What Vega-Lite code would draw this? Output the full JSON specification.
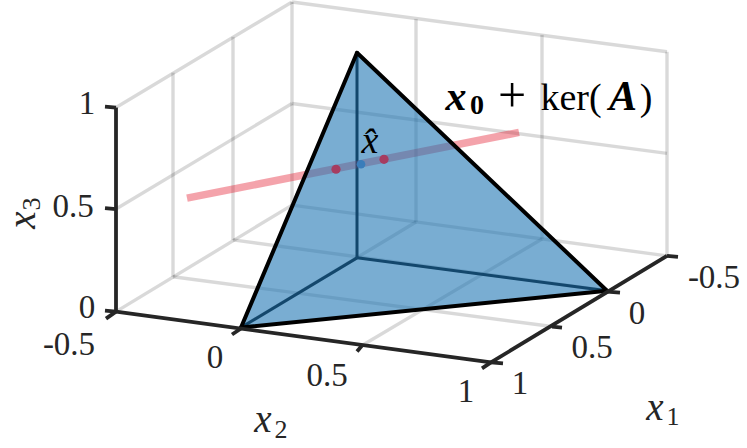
{
"$schema":"https://vega.github.io/schema/vega-lite/v6.json",
"width":747,"height":448,"padding":0,
"autosize":{"type":"fit","contains":"padding"},
"background":"white",
"config":{"view":{"stroke":null}},
"datasets":{
"grid":[
{"a":116,"b":106,"c":292,"d":0},{"a":116,"b":208,"c":292,"d":102},{"a":116,"b":311,"c":292,"d":204},
{"a":292,"b":0,"c":667,"d":50},{"a":292,"b":102,"c":667,"d":152},{"a":292,"b":204,"c":667,"d":255},
{"a":173,"b":71,"c":173,"d":276},{"a":233,"b":35,"c":233,"d":239},{"a":292,"b":0,"c":292,"d":204},
{"a":416,"b":17,"c":416,"d":221},{"a":542,"b":33,"c":542,"d":238},{"a":667,"b":50,"c":667,"d":255},
{"a":241,"b":327,"c":416,"d":221},{"a":362,"b":345,"c":542,"d":238},{"a":491,"b":362,"c":667,"d":255},
{"a":173,"b":276,"c":552,"d":326},{"a":233,"b":239,"c":607,"d":290}
],
"inner":[{"a":357,"b":51,"c":357,"d":257},{"a":357,"b":257,"c":241,"d":327},{"a":357,"b":257,"c":607,"d":290}],
"kernel":[{"a":187,"b":197,"c":519,"d":131}],
"face":[{"a":241,"b":327,"d":327},{"a":357,"b":51,"d":315.3},{"a":607,"b":290,"d":290}],
"outline":[{"a":241,"b":327,"c":357,"d":51},{"a":357,"b":51,"c":607,"d":290},{"a":241,"b":327,"c":607,"d":290}],
"axes":[
{"a":116,"b":106,"c":116,"d":311},{"a":116,"b":311,"c":491,"d":362},{"a":491,"b":362,"c":667,"d":255},
{"a":105,"b":105,"c":116,"d":106},{"a":105,"b":207,"c":116,"d":208},{"a":105,"b":310,"c":116,"d":311},
{"a":116,"b":311,"c":106,"d":318},{"a":241,"b":328,"c":232,"d":334},{"a":362,"b":345,"c":357,"d":351},{"a":491,"b":362,"c":482,"d":368},
{"a":667,"b":255,"c":678,"d":256},{"a":607,"b":291,"c":620,"d":292},{"a":552,"b":326,"c":562,"d":327},{"a":491,"b":362,"c":503,"d":363}
],
"ticks":[
{"a":87,"b":112,"t":"1"},{"a":73,"b":216,"t":"0.5"},{"a":87,"b":317,"t":"0"},
{"a":69,"b":355,"t":"-0.5"},{"a":215,"b":368,"t":"0"},{"a":327,"b":386,"t":"0.5"},{"a":466,"b":402,"t":"1"},
{"a":714,"b":287,"t":"-0.5"},{"a":637,"b":323,"t":"0"},{"a":592,"b":358,"t":"0.5"},{"a":520,"b":394,"t":"1"}
]
},
"encoding":{
"x":{"field":"a","type":"quantitative","scale":{"domain":[0,747]},"axis":null},
"y":{"field":"b","type":"quantitative","scale":{"domain":[448,0]},"axis":null}
},
"layer":[
{"data":{"name":"grid"},"mark":{"type":"rule","stroke":"#000","strokeOpacity":0.15,"strokeWidth":3.4},"encoding":{"x2":{"field":"c"},"y2":{"field":"d"}}},
{"data":{"name":"inner"},"mark":{"type":"rule","stroke":"#000","strokeWidth":3},"encoding":{"x2":{"field":"c"},"y2":{"field":"d"}}},
{"data":{"name":"kernel"},"mark":{"type":"rule","stroke":"#e41a2c","strokeOpacity":0.4,"strokeWidth":7.5},"encoding":{"x2":{"field":"c"},"y2":{"field":"d"}}},
{"data":{"name":"face"},"mark":{"type":"area","fill":"#1f77b4","fillOpacity":0.6,"stroke":null},"encoding":{"y2":{"field":"d"}}},
{"data":{"name":"outline"},"mark":{"type":"rule","stroke":"#000","strokeWidth":4,"strokeCap":"round"},"encoding":{"x2":{"field":"c"},"y2":{"field":"d"}}},
{"data":{"values":[{"a":336,"b":168},{"a":384,"b":158}]},"mark":{"type":"circle","size":85,"fill":"#a63c60","opacity":1}},
{"data":{"values":[{"a":361,"b":163}]},"mark":{"type":"circle","size":75,"fill":"#3a7dba","opacity":1}},
{"data":{"name":"axes"},"mark":{"type":"rule","stroke":"#262626","strokeWidth":3.8},"encoding":{"x2":{"field":"c"},"y2":{"field":"d"}}},
{"data":{"name":"ticks"},"mark":{"type":"text","font":"Liberation Serif","fontSize":33,"fill":"#262626","align":"center","baseline":"alphabetic"},"encoding":{"text":{"field":"t"}}},
{"data":{"values":[{"a":655,"b":420,"t":"x"},{"a":263,"b":432,"t":"x"}]},"mark":{"type":"text","font":"Liberation Serif","fontStyle":"italic","fontSize":39,"fill":"#262626","align":"center","baseline":"alphabetic"},"encoding":{"text":{"field":"t"}}},
{"data":{"values":[{"a":673,"b":425,"t":"1"},{"a":281,"b":438,"t":"2"}]},"mark":{"type":"text","font":"Liberation Serif","fontSize":26,"fill":"#262626","align":"center","baseline":"alphabetic"},"encoding":{"text":{"field":"t"}}},
{"data":{"values":[{"a":35,"b":219,"t":"x"}]},"mark":{"type":"text","font":"Liberation Serif","fontStyle":"italic","fontSize":39,"fill":"#262626","align":"center","baseline":"alphabetic","angle":270},"encoding":{"text":{"field":"t"}}},
{"data":{"values":[{"a":40,"b":203,"t":"3"}]},"mark":{"type":"text","font":"Liberation Serif","fontSize":26,"fill":"#262626","align":"center","baseline":"alphabetic","angle":270},"encoding":{"text":{"field":"t"}}},
{"data":{"values":[{"a":370,"b":152,"t":"x̂"}]},"mark":{"type":"text","font":"Liberation Serif","fontStyle":"italic","fontSize":38,"fill":"#000","align":"center","baseline":"alphabetic"},"encoding":{"text":{"field":"t"}}},
{"data":{"values":[{"a":456,"b":108,"t":"x"},{"a":623,"b":108,"t":"A"}]},"mark":{"type":"text","font":"Liberation Serif","fontStyle":"italic","fontWeight":"bold","fontSize":42,"fill":"#000","align":"center","baseline":"alphabetic"},"encoding":{"text":{"field":"t"}}},
{"data":{"values":[{"a":477,"b":113,"t":"0"}]},"mark":{"type":"text","font":"Liberation Serif","fontWeight":"bold","fontSize":28,"fill":"#000","align":"center","baseline":"alphabetic"},"encoding":{"text":{"field":"t"}}},
{"data":{"values":[{"a":512,"b":110,"t":"+"}]},"mark":{"type":"text","font":"Liberation Serif","fontSize":50,"fill":"#000","align":"center","baseline":"alphabetic"},"encoding":{"text":{"field":"t"}}},
{"data":{"values":[{"a":571,"b":108,"t":"ker("},{"a":646,"b":108,"t":")"}]},"mark":{"type":"text","font":"Liberation Serif","fontSize":38,"fill":"#000","align":"center","baseline":"alphabetic"},"encoding":{"text":{"field":"t"}}}
]
}
